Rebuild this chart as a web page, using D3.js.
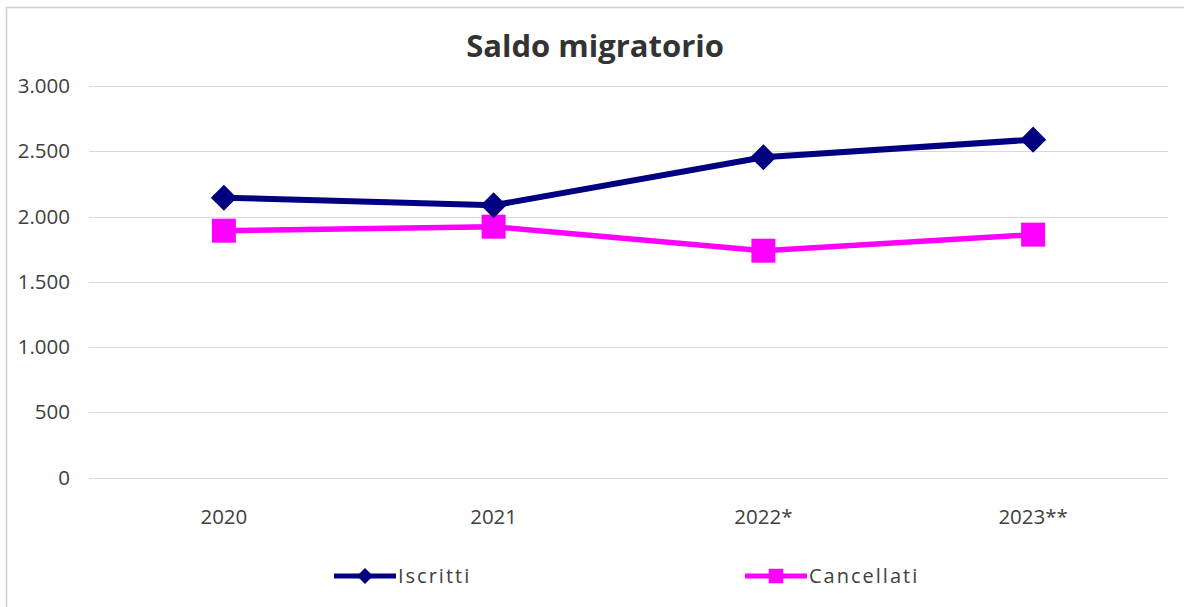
<!DOCTYPE html>
<html>
<head>
<meta charset="utf-8">
<script src="https://cdn.jsdelivr.net/npm/d3@7"></script>
<style>
  body { margin: 0; background: #fff; }
  svg { display: block; font-family: "Open Sans", sans-serif; }
</style>
</head>
<body>
<div id="chart"></div>
<script>
const categories = ["2020", "2021", "2022*", "2023**"];
const iscritti   = [2144, 2086, 2454, 2589];
const cancellati = [1891, 1922, 1738, 1861];
const yTicks     = [0, 500, 1000, 1500, 2000, 2500, 3000];

const NAVY = "#000080";
const MAGENTA = "#FF00FF";
const TEXT = "#404040";

const W = 1184, H = 607;
const svg = d3.select("#chart").append("svg").attr("width", W).attr("height", H);

// chart area border
svg.append("rect")
  .attr("x", 6.5).attr("y", 7.5).attr("width", 1190).attr("height", 620)
  .attr("fill", "none").attr("stroke", "#d0d0d0").attr("stroke-width", 1.5);

const x = d3.scalePoint().domain(categories).range([89, 1168]).padding(0.5);
const y = d3.scaleLinear().domain([0, 3000]).range([477.5, 86]);
const fmt = v => d3.format(",d")(v).replace(/,/g, ".");

// title
svg.append("text")
  .attr("x", 595).attr("y", 57).attr("text-anchor", "middle")
  .style("font-size", "31px").style("font-weight", "700").style("fill", "#333")
  .text("Saldo migratorio");

// gridlines + y labels
yTicks.forEach(t => {
  svg.append("line")
    .attr("x1", 89).attr("x2", 1168)
    .attr("y1", Math.round(y(t)) + 0.5).attr("y2", Math.round(y(t)) + 0.5)
    .attr("stroke", "#d9d9d9").attr("stroke-width", 1.2);
  svg.append("text")
    .attr("x", 70).attr("y", y(t)).attr("dy", "0.35em").attr("text-anchor", "end")
    .style("font-size", "20.5px").style("fill", TEXT)
    .text(fmt(t));
});

// x labels
categories.forEach(c => {
  svg.append("text")
    .attr("x", x(c)).attr("y", 524).attr("text-anchor", "middle")
    .style("font-size", "20.5px").style("fill", TEXT)
    .text(c);
});

const diamond = d3.symbol(d3.symbolSquare, 340);
const square = d3.symbol(d3.symbolSquare, 576);

function drawSeries(values, color, width, markerPath, rotate) {
  const line = d3.line().x((d, i) => x(categories[i])).y(d => y(d));
  svg.append("path").datum(values)
    .attr("d", line).attr("fill", "none")
    .attr("stroke", color).attr("stroke-width", width);
  svg.selectAll(null).data(values).join("path")
    .attr("d", markerPath)
    .attr("transform", (d, i) => `translate(${x(categories[i])},${y(d)}) rotate(${rotate})`)
    .attr("fill", color);
}

drawSeries(cancellati, MAGENTA, 5.5, square(), 0);
drawSeries(iscritti, NAVY, 6, diamond(), 45);

// legend
const legend = [
  { name: "Iscritti", color: NAVY, x0: 334, marker: d3.symbol(d3.symbolSquare, 130)(), rot: 45 },
  { name: "Cancellati", color: MAGENTA, x0: 745, marker: d3.symbol(d3.symbolSquare, 210)(), rot: 0 }
];
legend.forEach(l => {
  const ly = 576;
  svg.append("line")
    .attr("x1", l.x0).attr("x2", l.x0 + 62).attr("y1", ly).attr("y2", ly)
    .attr("stroke", l.color).attr("stroke-width", 5);
  svg.append("path").attr("d", l.marker)
    .attr("transform", `translate(${l.x0 + 31},${ly}) rotate(${l.rot})`)
    .attr("fill", l.color);
  svg.append("text")
    .attr("x", l.x0 + 64).attr("y", ly).attr("dy", "0.36em")
    .style("font-size", "20px").style("letter-spacing", "2px").style("fill", TEXT)
    .text(l.name);
});
</script>
</body>
</html>
